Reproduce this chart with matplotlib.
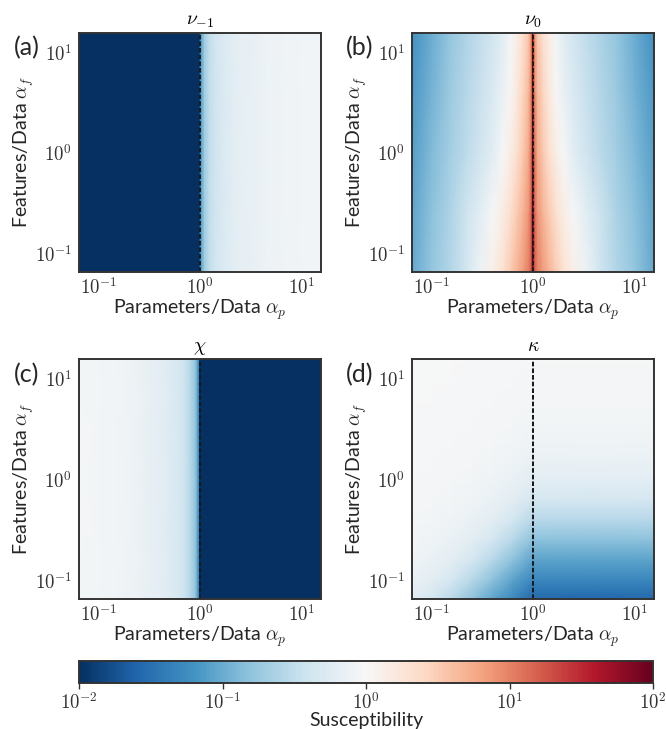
import numpy as np
import matplotlib
matplotlib.use("Agg")
import matplotlib.pyplot as plt
from matplotlib.colors import LogNorm
from matplotlib.ticker import NullLocator

plt.rcParams['font.family'] = ['Lato', 'DejaVu Sans']
plt.rcParams['mathtext.fontset'] = 'cm'

# ---------------- data ----------------
# alpha_p sample positions (dense near the alpha_p = 1 singularity)
AP = [0.063, 0.1, 0.15, 0.22, 0.3, 0.4, 0.5, 0.6, 0.7, 0.8, 0.9, 0.95, 0.98, 0.995, 1.0,
      1.005, 1.02, 1.053, 1.11, 1.25, 1.43, 1.67, 2.0, 2.5, 3.33, 4.5, 6.67, 10.0, 15.9]
# panels (a) and (c) do not depend on alpha_f
AF_FLAT = [0.063, 15.9]

NU_M1 = [0.001, 0.001, 0.001, 0.001, 0.001, 0.001, 0.001, 0.001, 0.001, 0.001, 0.001, 0.001,
         0.001, 0.001, 0.001,
         0.06, 0.07, 0.11, 0.2, 0.33, 0.42, 0.5, 0.58, 0.65, 0.72, 0.77, 0.82, 0.86, 0.89]

CHI = [0.92, 0.89, 0.84, 0.78, 0.72, 0.63, 0.55, 0.47, 0.38, 0.28, 0.16, 0.08, 0.055, 0.045, 0.001,
       0.001, 0.001, 0.001, 0.001, 0.001, 0.001, 0.001, 0.001, 0.001, 0.001, 0.001, 0.001, 0.001, 0.001]

# panel (b): nu_0, rows = alpha_f values
AF_NU0 = [0.063, 0.25, 1.0, 4.0, 15.9]
NU0 = [
    [0.09, 0.16, 0.25, 0.42, 0.8, 1.3, 2.0, 3.2, 5.0, 7.0, 10, 15, 30, 70, 200,
     70, 30, 15, 10, 7.0, 5.0, 3.2, 2.0, 1.3, 0.8, 0.42, 0.25, 0.16, 0.09],
    [0.085, 0.15, 0.23, 0.38, 0.6, 0.95, 1.4, 2.2, 3.3, 5.0, 7.5, 12, 25, 65, 200,
     65, 25, 12, 7.5, 5.0, 3.3, 2.2, 1.4, 0.95, 0.6, 0.38, 0.23, 0.15, 0.085],
    [0.075, 0.13, 0.2, 0.3, 0.4, 0.6, 0.95, 1.4, 2.2, 3.5, 5.5, 10, 20, 60, 200,
     60, 20, 10, 5.5, 3.5, 2.2, 1.4, 0.95, 0.6, 0.4, 0.3, 0.2, 0.13, 0.075],
    [0.068, 0.115, 0.18, 0.27, 0.36, 0.5, 0.72, 1.05, 1.7, 2.8, 4.5, 8, 17, 55, 200,
     55, 17, 8, 4.5, 2.8, 1.7, 1.05, 0.72, 0.5, 0.36, 0.27, 0.18, 0.115, 0.068],
    [0.06, 0.1, 0.16, 0.24, 0.32, 0.42, 0.6, 0.9, 1.4, 2.2, 3.5, 6.5, 15, 50, 200,
     50, 15, 6.5, 3.5, 2.2, 1.4, 0.9, 0.6, 0.42, 0.32, 0.24, 0.16, 0.1, 0.06],
]

# panel (d): kappa, rows = alpha_f, columns = alpha_p
AP_KAPPA = [0.063, 0.1, 0.158, 0.251, 0.398, 0.631, 1.0, 15.9]
AF_KAPPA = [0.063, 0.1, 0.158, 0.251, 0.398, 0.631, 1.0, 1.585, 2.512, 3.981, 6.31, 10.0, 15.9]
KAPPA = [
    [0.62, 0.45, 0.28, 0.15, 0.085, 0.05, 0.026, 0.026],
    [0.74, 0.62, 0.45, 0.28, 0.15, 0.085, 0.05, 0.05],
    [0.82, 0.74, 0.62, 0.45, 0.28, 0.15, 0.085, 0.085],
    [0.87, 0.82, 0.74, 0.62, 0.45, 0.28, 0.15, 0.15],
    [0.9, 0.87, 0.82, 0.74, 0.62, 0.45, 0.28, 0.28],
    [0.92, 0.9, 0.87, 0.82, 0.74, 0.62, 0.45, 0.45],
    [0.94, 0.92, 0.9, 0.87, 0.82, 0.74, 0.62, 0.62],
    [0.95, 0.94, 0.92, 0.9, 0.87, 0.82, 0.74, 0.74],
    [0.96, 0.95, 0.94, 0.92, 0.9, 0.87, 0.82, 0.82],
    [0.965, 0.96, 0.95, 0.94, 0.92, 0.9, 0.87, 0.87],
    [0.97, 0.965, 0.96, 0.95, 0.94, 0.92, 0.9, 0.9],
    [0.975, 0.97, 0.965, 0.96, 0.95, 0.94, 0.92, 0.92],
    [0.98, 0.975, 0.97, 0.965, 0.96, 0.95, 0.94, 0.94],
]

TITLES = [r'$\nu_{-1}$', r'$\nu_0$', r'$\chi$', r'$\kappa$']
PANEL_LABELS = ['(a)', '(b)', '(c)', '(d)']
TICKS = [0.1, 1.0, 10.0]
TICK_LABELS = [r'$10^{-1}$', r'$10^{0}$', r'$10^{1}$']
CB_TICKS = [1e-2, 1e-1, 1e0, 1e1, 1e2]
CB_TICK_LABELS = [r'$10^{-2}$', r'$10^{-1}$', r'$10^{0}$', r'$10^{1}$', r'$10^{2}$']
XLABEL = r'Parameters/Data $\alpha_p$'
YLABEL = r'Features/Data $\alpha_f$'
CB_LABEL = 'Susceptibility'
ALPHA_CRIT = 1.0

# ---------------- figure ----------------
W, H = 666, 729
fig = plt.figure(figsize=(W / 100, H / 100), dpi=100)
norm = LogNorm(vmin=1e-2, vmax=1e2)
cmap = plt.get_cmap('RdBu_r')
spine_col = '#333333'
LIM = (10 ** -1.19, 10 ** 1.19)

def px_axes(x0, y0, x1, y1):
    return fig.add_axes([x0 / W, 1 - y1 / H, (x1 - x0) / W, (y1 - y0) / H])

boxes = [(79, 33, 321, 272), (412, 33, 654, 272), (79, 359, 321, 599), (412, 359, 654, 599)]
fields = [
    (AP, AF_FLAT, np.vstack([NU_M1, NU_M1])),
    (AP, AF_NU0, np.array(NU0, dtype=float)),
    (AP, AF_FLAT, np.vstack([CHI, CHI])),
    (AP_KAPPA, AF_KAPPA, np.array(KAPPA, dtype=float)),
]
label_pos = [(27, 48), (360, 48), (27, 375), (360, 375)]

for box, (xs, ys, Z), title, plabel, lp in zip(boxes, fields, TITLES, PANEL_LABELS, label_pos):
    ax = px_axes(*box)
    X, Y = np.meshgrid(xs, ys)
    ax.pcolormesh(X, Y, Z, norm=norm, cmap=cmap, shading='gouraud', rasterized=True)
    ax.set_xscale('log')
    ax.set_yscale('log')
    ax.set_xlim(*LIM)
    ax.set_ylim(*LIM)
    ax.axvline(ALPHA_CRIT, color='#1a1a1a', lw=1.45, ls=(0, (2.3, 1.0)))
    ax.set_xticks(TICKS)
    ax.set_xticklabels(TICK_LABELS)
    ax.set_yticks(TICKS)
    ax.set_yticklabels(TICK_LABELS)
    ax.xaxis.set_minor_locator(NullLocator())
    ax.yaxis.set_minor_locator(NullLocator())
    ax.tick_params(length=0, labelsize=13.5, colors='#333333')
    ax.tick_params(axis='x', pad=3)
    ax.tick_params(axis='y', pad=5)
    for s in ax.spines.values():
        s.set_color(spine_col)
        s.set_linewidth(1.4)
    ax.set_xlabel(XLABEL, fontsize=14, color='#262626', labelpad=0)
    ax.set_ylabel(YLABEL, fontsize=14, color='#262626', labelpad=-1)
    ax.set_title(title, fontsize=14, pad=6)
    fig.text(lp[0] / W, 1 - lp[1] / H, plabel, fontsize=18, ha='center', va='center',
             color='#262626')

cax = px_axes(79, 661, 653, 683)
sm = matplotlib.cm.ScalarMappable(norm=norm, cmap=cmap)
cb = fig.colorbar(sm, cax=cax, orientation='horizontal')
cb.set_ticks(CB_TICKS)
cb.set_ticklabels(CB_TICK_LABELS)
cb.ax.xaxis.set_minor_locator(NullLocator())
cb.ax.tick_params(length=4, width=1.0, pad=1.5, labelsize=13.5, colors='#333333')
cb.outline.set_edgecolor(spine_col)
cb.outline.set_linewidth(1.4)
cb.set_label(CB_LABEL, fontsize=14, color='#262626', labelpad=0)

fig.savefig('out.png', dpi=100)
